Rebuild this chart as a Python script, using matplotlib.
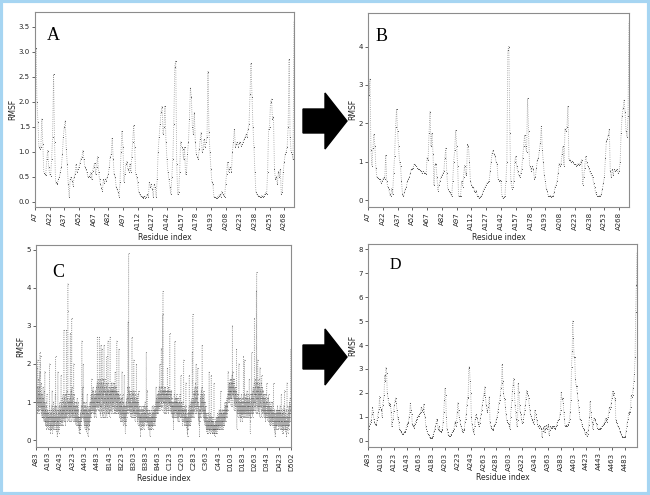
import matplotlib
matplotlib.use('Agg')
import matplotlib.pyplot as plt
from matplotlib.patches import FancyArrow, Rectangle
import numpy as np

# panel A: RMSF per residue (266 residues)
rmsf_a = [2.55, 3.07, 2.0, 1.6, 1.1, 1.05, 1.1, 1.65, 1.15, 0.58, 0.55, 0.53, 0.85, 1.02, 0.7,
          0.55, 0.52, 0.85, 1.3, 2.55, 1.2, 0.4, 0.35, 0.38, 0.45, 0.5, 0.6, 0.7, 0.95, 1.3,
          1.5, 1.62, 1.05, 0.75, 0.35, 0.1, 0.45, 0.5, 0.42, 0.32, 0.5, 0.55, 0.75, 0.6, 0.65,
          0.7, 0.78, 0.85, 0.9, 1.02, 0.85, 0.7, 0.65, 0.6, 0.5, 0.52, 0.5, 0.58, 0.45, 0.62,
          0.7, 0.78, 0.55, 0.7, 0.9, 0.6, 0.45, 0.35, 0.28, 0.22, 0.45, 0.38, 0.45, 0.42, 0.5,
          0.55, 0.7, 0.9, 0.95, 1.28, 0.85, 0.55, 0.5, 0.3, 0.25, 0.2, 0.1, 0.4, 1.0, 1.42,
          1.1, 0.4, 0.55, 0.75, 0.8, 0.65, 0.6, 0.75, 0.6, 0.9, 1.2, 1.53, 1.1, 0.55, 0.5,
          0.4, 0.2, 0.15, 0.12, 0.1, 0.1, 0.08, 0.12, 0.08, 0.1, 0.15, 0.1, 0.4, 0.3, 0.35,
          0.25, 0.1, 0.35, 0.3, 0.1, 0.45, 1.0, 1.3, 1.55, 1.8, 1.9, 1.35, 1.5, 1.92, 1.2,
          0.85, 0.6, 0.45, 0.3, 0.15, 0.5, 0.85, 1.55, 2.7, 2.82, 0.75, 0.15, 0.2, 0.6, 1.2,
          1.1, 1.05, 0.85, 1.1, 0.55, 0.6, 0.95, 1.2, 1.65, 2.27, 2.1, 1.5, 1.35, 1.78, 1.2,
          0.95, 0.9, 0.85, 1.05, 1.25, 1.38, 1.0, 1.05, 1.25, 1.1, 1.2, 1.3, 2.6, 1.4, 1.0,
          0.65, 0.4, 0.35, 0.1, 0.1, 0.08, 0.08, 0.1, 0.12, 0.15, 0.1, 0.2, 0.15, 0.12, 0.1,
          0.35, 0.55, 0.8, 0.6, 0.65, 0.7, 0.6, 1.0, 1.2, 1.45, 1.1, 1.15, 1.2, 1.1, 1.18,
          1.2, 1.12, 1.15, 1.2, 1.25, 1.3, 1.35, 1.3, 1.45, 1.55, 2.15, 2.77, 2.1, 1.5, 1.1,
          0.6, 0.2, 0.15, 0.12, 0.12, 0.1, 0.1, 0.12, 0.1, 0.12, 0.15, 0.18, 0.15, 0.6, 1.45,
          1.5, 2.0, 2.05, 1.65, 1.7, 0.65, 0.45, 0.5, 0.35, 0.6, 0.5, 0.65, 0.15, 0.2, 0.6,
          0.8, 0.95, 1.0, 1.1, 1.5, 2.85, 1.3, 1.0, 0.95, 0.85, 3.6]

# panel B: RMSF per residue (266 residues)
rmsf_b = [3.75, 2.75, 3.15, 1.3, 0.9, 1.35, 1.72, 1.4, 0.85, 0.6, 0.58, 0.55, 0.55, 0.45, 0.5,
          0.55, 0.6, 0.55, 1.18, 0.5, 0.35, 0.3, 0.15, 0.1, 0.3, 0.15, 0.7, 1.15, 1.9, 2.38,
          1.8, 1.4, 1.0, 0.9, 0.5, 0.15, 0.1, 0.2, 0.3, 0.35, 0.5, 0.55, 0.6, 0.7, 0.8,
          0.82, 0.85, 0.95, 0.92, 0.9, 0.85, 0.82, 0.8, 0.78, 0.75, 0.7, 0.75, 0.72, 0.7, 0.68,
          1.1, 1.05, 1.75, 2.3, 1.4, 1.75, 1.2, 0.4, 0.95, 0.95, 0.6, 0.25, 0.4, 0.5, 0.6,
          0.65, 0.7, 0.75, 1.1, 1.35, 0.7, 0.3, 0.25, 0.2, 0.15, 0.1, 0.5, 1.0, 1.3, 1.82,
          1.4, 0.9, 0.1, 0.1, 0.12, 0.5, 0.35, 0.6, 0.9, 0.7, 0.65, 1.45, 1.4, 1.0, 0.5,
          0.4, 0.35, 0.35, 0.25, 0.2, 0.25, 0.1, 0.1, 0.05, 0.08, 0.1, 0.15, 0.25, 0.3, 0.35,
          0.4, 0.45, 0.48, 0.5, 0.75, 1.0, 1.22, 1.3, 1.2, 1.15, 1.0, 0.95, 0.55, 0.5, 0.52,
          0.5, 0.1, 0.05, 0.08, 0.1, 0.5, 1.0, 3.9, 4.0, 1.75, 0.5, 0.3, 0.35, 0.5, 1.0,
          1.15, 0.9, 0.75, 0.65, 0.6, 0.7, 0.8, 1.1, 1.4, 1.7, 1.4, 1.25, 2.65, 1.8, 0.9,
          0.85, 0.75, 0.9, 0.8, 0.55, 0.6, 0.85, 1.05, 1.1, 1.3, 1.5, 1.92, 1.3, 1.0, 0.65,
          0.5, 0.3, 0.25, 0.1, 0.1, 0.12, 0.08, 0.1, 0.1, 0.2, 0.35, 0.4, 0.5, 0.7, 0.95,
          0.9, 0.95, 1.2, 1.4, 0.9, 1.85, 1.8, 1.9, 2.45, 1.05, 1.05, 1.0, 1.02, 1.0, 0.95,
          0.95, 0.9, 0.92, 0.95, 0.92, 0.95, 1.0, 1.05, 0.4, 0.6, 0.85, 1.15, 1.0, 0.9, 0.85,
          0.75, 0.7, 0.65, 0.6, 0.45, 0.35, 0.2, 0.15, 0.1, 0.1, 0.12, 0.1, 0.15, 0.3, 0.45,
          0.6, 1.1, 1.55, 1.6, 1.7, 1.85, 0.75, 0.6, 0.8, 0.65, 0.8, 0.75, 0.78, 0.8, 0.7,
          0.75, 1.0, 1.75, 2.2, 2.4, 2.6, 2.3, 1.8, 1.65, 2.2, 4.65]

ticks_ab = ['A7', 'A22', 'A37', 'A52', 'A67', 'A82', 'A97', 'A112', 'A127', 'A142',
            'A157', 'A178', 'A193', 'A208', 'A223', 'A238', 'A253', 'A268']

# panel C: tetramer, RMSF in tenths of a unit, one list per chain (420 residues each)
chain_a = [12, 22, 9, 15, 10, 19, 8, 14, 11, 7, 13, 10, 21, 9, 12, 8, 16, 11, 7, 10,
           9, 14, 12, 8, 18, 10, 23, 9, 13, 11, 22, 8, 12, 10, 7, 15, 9, 11, 6, 9,
           8, 12, 6, 10, 7, 9, 14, 6, 8, 11, 5, 9, 7, 13, 6, 10, 8, 5, 18, 7,
           5, 8, 4, 7, 10, 6, 4, 9, 5, 3, 7, 6, 12, 5, 4, 8, 6, 3, 7, 5,
           6, 4, 7, 3, 5, 8, 4, 6, 9, 20, 5, 3, 7, 4, 6, 2, 5, 8, 3, 6,
           4, 7, 3, 5, 9, 6, 13, 4, 2, 6, 5, 8, 3, 7, 4, 10, 5, 3, 6, 4,
           7, 5, 9, 4, 6, 3, 8, 12, 5, 22, 7, 4, 6, 9, 3, 5, 8, 2, 6, 4,
           1, 5, 7, 3, 18, 6, 4, 8, 5, 2, 6, 9, 4, 7, 3, 10, 5, 6, 4, 8,
           5, 8, 4, 9, 6, 17, 7, 5, 10, 4, 8, 6, 11, 5, 7, 9, 4, 12, 6, 8,
           7, 10, 5, 9, 29, 8, 6, 11, 5, 12, 7, 9, 6, 10, 4, 8, 12, 6, 9, 7,
           29, 10, 6, 13, 8, 5, 11, 7, 9, 34, 41, 12, 7, 10, 5, 9, 8, 12, 6, 10,
           7, 11, 5, 9, 10, 8, 28, 6, 12, 10, 7, 13, 5, 9, 8, 32, 6, 14, 7, 10,
           8, 12, 6, 9, 5, 11, 7, 10, 20, 8, 6, 9, 12, 5, 8, 7, 10, 6, 9, 5,
           7, 4, 9, 6, 8, 5, 10, 6, 4, 8, 7, 11, 5, 9, 6, 4, 8, 6, 10, 5,
           4, 6, 3, 5, 2, 6, 4, 3, 2, 5, 4, 6, 3, 7, 4, 5, 8, 6, 9, 5,
           7, 12, 26, 9, 6, 11, 7, 14, 8, 6, 10, 20, 7, 9, 5, 8, 6, 10, 4, 7,
           5, 8, 3, 6, 9, 4, 7, 5, 10, 6, 3, 8, 4, 2, 6, 9, 5, 12, 4, 7,
           3, 6, 8, 1, 5, 7, 4, 9, 3, 6, 5, 8, 4, 7, 10, 5, 8, 6, 9, 7,
           10, 6, 12, 8, 11, 7, 16, 9, 13, 8, 11, 10, 12, 7, 9, 14, 8, 13, 10, 12,
           8, 11, 7, 10, 6, 9, 12, 8, 11, 7, 13, 9, 10, 8, 12, 6, 11, 9, 14, 10,
           12, 9, 15, 10, 27, 11, 8, 14, 10, 16, 9, 12, 15, 8, 13, 11, 10, 27, 12, 9]
chain_b = [14, 7, 16, 9, 12, 6, 15, 11, 25, 8, 13, 9, 16, 12, 7, 24, 11, 14, 6, 13,
           10, 15, 8, 12, 16, 6, 11, 13, 25, 10, 14, 7, 12, 16, 9, 11, 6, 13, 10, 15,
           8, 12, 7, 14, 10, 22, 6, 11, 13, 9, 12, 7, 15, 10, 26, 11, 7, 13, 8, 12,
           9, 14, 7, 12, 11, 6, 13, 10, 27, 12, 8, 14, 11, 13, 7, 12, 8, 15, 11, 13,
           9, 14, 10, 13, 7, 12, 15, 9, 13, 10, 14, 8, 9, 13, 11, 15, 7, 12, 8, 14,
           11, 18, 7, 13, 10, 12, 8, 14, 9, 7, 13, 10, 26, 12, 8, 11, 9, 13, 7, 12,
           8, 11, 7, 12, 9, 10, 24, 8, 11, 6, 10, 9, 12, 7, 10, 8, 5, 11, 7, 9,
           6, 9, 5, 11, 7, 8, 18, 6, 10, 5, 9, 7, 12, 6, 8, 4, 10, 7, 9, 5,
           8, 17, 6, 9, 4, 7, 5, 8, 2, 6, 9, 4, 7, 10, 5, 8, 6, 11, 7, 9,
           12, 8, 14, 9, 11, 7, 31, 10, 13, 8, 49, 12, 9, 14, 10, 8, 13, 7, 11, 9,
           12, 8, 10, 6, 11, 9, 7, 13, 8, 10, 6, 12, 27, 9, 7, 11, 8, 13, 6, 10,
           8, 12, 7, 10, 21, 9, 6, 11, 8, 13, 7, 10, 5, 9, 12, 6, 8, 11, 7, 10,
           9, 20, 8, 6, 11, 7, 10, 5, 9, 12, 6, 8, 4, 10, 7, 9, 13, 6, 8, 5,
           7, 4, 9, 6, 8, 3, 6, 5, 1, 7, 4, 8, 5, 6, 3, 9, 5, 7, 4, 8,
           6, 3, 7, 5, 8, 4, 6, 9, 5, 7, 3, 8, 6, 4, 9, 5, 7, 6, 10, 5,
           7, 5, 9, 6, 8, 4, 23, 6, 9, 5, 7, 8, 13, 5, 6, 4, 8, 5, 7, 3,
           6, 4, 7, 5, 3, 6, 4, 8, 5, 3, 1, 6, 4, 7, 5, 3, 6, 8, 4, 5,
           3, 6, 4, 7, 5, 9, 4, 6, 3, 7, 5, 8, 4, 6, 9, 5, 7, 4, 8, 6,
           5, 7, 9, 4, 6, 8, 5, 10, 7, 9, 14, 6, 8, 11, 7, 9, 12, 8, 10, 7,
           9, 12, 8, 11, 7, 13, 10, 9, 12, 8, 11, 14, 9, 10, 12, 20, 8, 11, 13, 9,
           12, 10, 14, 9, 11, 24, 10, 13, 8, 12, 11, 9, 14, 10, 33, 12, 39, 11, 13, 10]
chain_c = [10, 13, 7, 12, 11, 14, 8, 12, 10, 13, 7, 11, 14, 10, 12, 8, 13, 11, 7, 12,
           11, 13, 9, 12, 8, 19, 11, 8, 13, 10, 12, 7, 14, 11, 10, 13, 8, 12, 10, 11,
           9, 28, 12, 10, 13, 8, 11, 9, 12, 7, 10, 8, 13, 9, 11, 7, 10, 6, 9, 8,
           7, 10, 6, 9, 5, 3, 8, 10, 6, 9, 12, 7, 10, 8, 26, 9, 6, 11, 8, 10,
           7, 11, 9, 6, 10, 8, 12, 7, 9, 11, 6, 10, 8, 5, 9, 7, 11, 8, 6, 10,
           8, 5, 9, 7, 10, 6, 8, 12, 7, 9, 6, 11, 8, 10, 17, 7, 9, 6, 10, 8,
           6, 9, 5, 8, 4, 7, 10, 6, 8, 5, 7, 9, 21, 6, 8, 5, 9, 4, 7, 6,
           5, 8, 4, 7, 6, 9, 5, 15, 6, 4, 8, 5, 3, 7, 4, 6, 2, 5, 1, 4,
           6, 3, 7, 5, 8, 4, 6, 9, 5, 17, 7, 4, 8, 6, 5, 9, 4, 7, 10, 6,
           8, 5, 9, 7, 11, 6, 8, 10, 7, 23, 9, 6, 12, 33, 8, 10, 7, 11, 9, 6,
           10, 13, 8, 12, 9, 14, 11, 7, 12, 10, 15, 9, 8, 13, 20, 11, 7, 12, 9, 14,
           10, 8, 13, 11, 9, 19, 12, 7, 10, 6, 9, 5, 8, 4, 7, 6, 1, 5, 8, 6,
           9, 7, 11, 8, 12, 6, 10, 9, 13, 7, 11, 8, 14, 10, 25, 9, 12, 7, 10, 8,
           11, 6, 9, 13, 7, 10, 5, 8, 12, 6, 9, 4, 7, 10, 5, 8, 6, 9, 4, 7,
           5, 3, 6, 2, 4, 7, 3, 5, 2, 6, 4, 3, 5, 2, 7, 4, 3, 6, 4, 5,
           18, 3, 5, 2, 6, 4, 3, 7, 2, 5, 4, 6, 3, 5, 17, 4, 2, 6, 3, 5,
           4, 2, 5, 3, 6, 2, 4, 3, 5, 2, 4, 3, 15, 2, 4, 3, 1, 3, 2, 4,
           3, 5, 2, 4, 3, 6, 2, 4, 5, 3, 6, 4, 2, 5, 3, 7, 4, 6, 3, 5,
           4, 6, 3, 7, 5, 8, 4, 6, 3, 7, 5, 4, 8, 6, 3, 7, 13, 5, 4, 6,
           3, 7, 5, 8, 4, 6, 3, 5, 7, 4, 8, 6, 5, 3, 7, 4, 6, 8, 5, 7,
           6, 4, 8, 10, 5, 7, 9, 6, 8, 5, 9, 7, 10, 6, 8, 11, 7, 9, 6, 8]
chain_d = [9, 12, 8, 11, 13, 18, 10, 12, 14, 11, 13, 15, 12, 15, 10, 14, 13, 11, 16, 12,
           13, 15, 11, 14, 9, 16, 13, 11, 15, 12, 17, 14, 9, 30, 13, 18, 15, 12, 16, 13,
           14, 11, 15, 13, 8, 16, 10, 14, 12, 9, 13, 11, 8, 12, 10, 14, 9, 11, 13, 10,
           24, 8, 3, 11, 9, 7, 12, 8, 10, 6, 11, 9, 7, 12, 8, 10, 20, 9, 7, 11,
           8, 6, 10, 7, 9, 5, 11, 8, 6, 10, 7, 9, 12, 6, 8, 10, 7, 11, 5, 9,
           7, 10, 6, 9, 8, 11, 22, 7, 10, 6, 12, 8, 9, 21, 7, 10, 6, 9, 11, 8,
           10, 7, 12, 8, 6, 11, 9, 7, 10, 13, 8, 6, 11, 9, 7, 12, 8, 10, 6, 9,
           7, 11, 8, 10, 16, 9, 6, 12, 8, 7, 5, 2, 9, 6, 11, 8, 10, 7, 12, 9,
           23, 8, 11, 7, 12, 9, 6, 13, 10, 8, 14, 7, 11, 9, 12, 8, 15, 10, 32, 12,
           10, 14, 8, 12, 16, 9, 13, 11, 15, 7, 12, 39, 14, 44, 11, 9, 13, 7, 15, 12,
           21, 9, 14, 11, 8, 13, 16, 7, 12, 9, 15, 14, 11, 6, 12, 19, 10, 13, 9, 14,
           11, 8, 12, 15, 9, 6, 17, 13, 8, 11, 14, 7, 10, 12, 9, 13, 8, 11, 7, 12,
           9, 6, 11, 8, 10, 7, 12, 9, 6, 11, 8, 5, 10, 7, 9, 12, 6, 8, 11, 15,
           8, 6, 10, 7, 9, 5, 8, 11, 6, 9, 7, 12, 8, 5, 9, 6, 10, 7, 4, 8,
           6, 9, 5, 8, 4, 7, 10, 6, 8, 5, 9, 4, 7, 6, 8, 5, 10, 6, 4, 7,
           5, 8, 6, 9, 15, 4, 7, 5, 3, 8, 6, 4, 7, 2, 5, 1, 6, 4, 3, 7,
           5, 8, 4, 6, 3, 7, 5, 8, 4, 6, 9, 5, 7, 4, 8, 6, 3, 7, 5, 8,
           6, 4, 8, 5, 7, 3, 6, 9, 4, 7, 5, 8, 3, 6, 4, 12, 5, 7, 3, 6,
           4, 7, 2, 5, 8, 3, 6, 4, 7, 2, 5, 9, 3, 6, 4, 8, 5, 13, 4, 6,
           3, 7, 5, 2, 6, 4, 8, 3, 5, 1, 6, 4, 9, 15, 5, 3, 7, 4, 6, 2,
           5, 8, 4, 6, 3, 9, 5, 7, 4, 10, 6, 8, 5, 11, 7, 9, 14, 19, 24, 12]

ticks_c = ['A83', 'A163', 'A243', 'A323', 'A403', 'A483', 'B143', 'B223', 'B303', 'B383',
           'B463', 'C123', 'C203', 'C283', 'C363', 'C443', 'D103', 'D183', 'D263', 'D343',
           'D423', 'D502']

# panel D: monomer, RMSF per residue (420 residues)
rmsf_d = [0.75, 0.5, 0.6, 0.7, 0.8, 0.85, 1.1, 1.4, 1.2, 0.9, 0.8, 0.7, 0.65, 0.7, 0.85, 1.0, 1.2, 1.35, 1.85, 1.4,
          1.35, 1.3, 1.0, 1.5, 1.7, 1.9, 2.75, 2.5, 3.05, 2.85, 2.0, 1.8, 1.6, 1.5, 1.45, 1.55, 1.2, 0.6, 0.8, 0.9,
          1.25, 1.5, 1.65, 1.8, 1.6, 1.3, 1.0, 0.9, 0.8, 0.5, 0.45, 0.4, 0.35, 0.3, 0.3, 0.28, 0.35, 0.38, 0.4, 0.5,
          0.6, 0.7, 0.75, 0.8, 1.0, 1.2, 1.6, 1.3, 1.1, 0.7, 0.6, 0.65, 0.55, 0.7, 0.8, 0.85, 0.9, 1.0, 1.05, 1.05,
          1.1, 1.15, 1.2, 1.4, 1.3, 1.2, 1.35, 1.55, 1.1, 1.0, 0.6, 0.5, 0.4, 0.3, 0.28, 0.25, 0.15, 0.12, 0.1, 0.12,
          0.15, 0.2, 0.3, 0.4, 0.5, 0.6, 0.75, 0.9, 0.85, 0.5, 0.45, 0.6, 0.4, 0.35, 0.4, 0.45, 0.5, 0.8, 1.2, 1.7,
          2.2, 1.9, 1.0, 0.5, 0.35, 0.25, 0.2, 0.2, 0.22, 0.25, 0.3, 0.35, 0.4, 0.45, 0.5, 0.75, 0.8, 0.6, 0.8, 1.2,
          1.6, 1.3, 1.0, 0.85, 0.7, 0.6, 0.5, 0.4, 0.35, 0.45, 0.5, 0.8, 0.9, 1.1, 1.5, 1.8, 1.85, 3.05, 3.1, 2.5,
          2.0, 1.0, 0.7, 0.5, 0.4, 0.3, 0.6, 0.9, 1.1, 1.0, 0.95, 0.8, 0.7, 0.6, 0.75, 0.95, 1.1, 1.3, 1.5, 1.7,
          1.9, 2.0, 2.25, 1.85, 1.5, 1.3, 1.2, 1.4, 1.6, 1.85, 0.8, 0.6, 0.55, 0.5, 0.45, 0.5, 0.6, 0.65, 0.7, 0.8,
          0.9, 1.0, 1.2, 1.35, 1.6, 1.7, 1.9, 2.2, 2.4, 3.2, 2.5, 2.0, 1.8, 1.75, 1.4, 1.1, 0.85, 0.8, 0.75, 0.7,
          0.6, 0.5, 1.0, 1.4, 1.7, 2.1, 2.35, 2.6, 2.0, 1.5, 1.2, 0.9, 0.6, 0.85, 2.4, 2.05, 1.5, 1.2, 1.1, 0.9,
          0.75, 0.8, 0.9, 1.1, 1.3, 1.5, 1.75, 2.1, 2.0, 1.9, 1.8, 1.5, 1.3, 1.1, 1.05, 0.9, 0.85, 0.8, 0.7, 0.9,
          1.3, 1.1, 1.0, 0.85, 0.7, 0.6, 0.55, 0.65, 0.6, 0.55, 0.5, 0.15, 0.4, 0.55, 0.6, 0.35, 0.5, 0.65, 0.55, 0.5,
          0.6, 0.7, 0.25, 0.45, 0.6, 0.55, 0.6, 0.55, 0.6, 0.55, 0.6, 0.55, 0.5, 0.6, 0.65, 0.8, 0.85, 0.9, 0.9, 1.1,
          1.3, 2.05, 1.75, 1.8, 1.6, 1.2, 0.9, 0.6, 0.6, 0.65, 0.6, 0.65, 0.7, 0.8, 0.9, 1.2, 1.7, 3.1, 3.75, 5.0,
          4.3, 3.5, 3.5, 2.6, 2.3, 2.3, 2.0, 1.7, 1.4, 1.2, 0.9, 0.85, 0.85, 0.7, 0.6, 0.55, 0.5, 0.45, 0.3, 0.35,
          0.35, 0.2, 0.3, 0.45, 0.65, 1.0, 1.65, 1.2, 1.0, 0.8, 0.5, 0.7, 0.95, 0.9, 0.85, 0.75, 0.7, 0.55, 0.5, 0.5,
          0.5, 0.52, 0.5, 0.55, 0.6, 0.6, 0.65, 0.7, 0.75, 0.8, 0.95, 0.85, 0.8, 0.9, 1.0, 1.2, 1.4, 1.35, 1.4, 1.6,
          1.8, 2.1, 1.9, 2.0, 1.8, 1.7, 0.85, 0.8, 0.75, 0.6, 0.6, 0.55, 0.4, 0.35, 0.3, 0.2, 0.15, 0.15, 0.15, 0.15,
          0.15, 0.2, 0.4, 0.6, 0.8, 0.9, 1.2, 1.1, 1.2, 1.4, 1.9, 1.85, 1.9, 2.2, 2.5, 2.8, 3.5, 5.4, 6.5, 7.85]

ticks_d = ['A83', 'A103', 'A123', 'A143', 'A163', 'A183', 'A203', 'A223', 'A243', 'A263',
           'A283', 'A303', 'A323', 'A343', 'A363', 'A383', 'A403', 'A423', 'A443', 'A463',
           'A483']

rmsf_c = np.array(chain_a + chain_b + chain_c + chain_d) / 10.0

fig = plt.figure(figsize=(6.5, 4.95), dpi=100)
W, H = 650.0, 495.0


def panel(box, y, labels, step, ylim, yticks, yfmt, letter, letter_xy, letter_size, ms=1.3, lc='0.6'):
    l, t, r, b = box
    ax = fig.add_axes([l / W, 1 - b / H, (r - l) / W, (b - t) / H])
    x = np.arange(len(y))
    ax.plot(x, y, color=lc, ls=':', lw=0.6, marker='.', ms=ms,
            mfc='0.3', mec='0.3', mew=0)
    ax.set_xlim(0, len(y) - 1)
    ax.set_ylim(*ylim)
    pos = np.minimum(np.arange(len(labels)) * step, len(y) - 1)
    ax.set_xticks(pos)
    ax.set_xticklabels(labels, rotation=90, fontsize=5)
    ax.set_yticks(yticks)
    ax.set_yticklabels([yfmt.format(v) for v in yticks], fontsize=5)
    ax.tick_params(length=2.2, width=0.5, pad=1.5, colors='0.15')
    for s in ax.spines.values():
        s.set_color('0.55')
        s.set_linewidth(0.8)
    ax.set_xlabel('Residue index', fontsize=5.5, labelpad=2, color='0.15')
    ax.set_ylabel('RMSF', fontsize=5.5, labelpad=1, color='0.15')
    ax.text(letter_xy[0] / W, 1 - letter_xy[1] / H, letter, transform=fig.transFigure,
            family='Liberation Serif', fontsize=letter_size, ha='left', va='baseline')
    return ax


panel((35, 12.5, 294, 206.7), rmsf_a, ticks_ab, 15, (-0.1, 3.78),
      [0, 0.5, 1.0, 1.5, 2.0, 2.5, 3.0, 3.5], '{:.1f}', 'A', (47, 40), 13)
panel((368, 12.7, 629, 206.7), rmsf_b, ticks_ab, 15, (-0.17, 4.88),
      [0, 1, 2, 3, 4], '{:d}', 'B', (376, 41), 13)
panel((36, 245, 291, 447), rmsf_c, ticks_c, 80, (-0.18, 5.12),
      [0, 1, 2, 3, 4, 5], '{:d}', 'C', (52, 277), 13, ms=0.9, lc='0.68')
panel((368, 244, 637, 447.3), rmsf_d, ticks_d, 20, (-0.27, 8.22),
      [0, 1, 2, 3, 4, 5, 6, 7, 8], '{:d}', 'D', (390, 269), 11.5)

# block arrows between the panels
for tip_y in (121, 357):
    fig.patches.append(FancyArrow(303 / W, 1 - tip_y / H, 44 / W, 0, width=24 / H,
                                  head_width=56 / H, head_length=22 / W,
                                  length_includes_head=True, color='black',
                                  transform=fig.transFigure))

fig.patches.append(Rectangle((0.002, 0.003), 0.996, 0.994, transform=fig.transFigure,
                             fill=False, edgecolor='#a6d5f2', lw=3))

fig.savefig('out.png', dpi=100)
